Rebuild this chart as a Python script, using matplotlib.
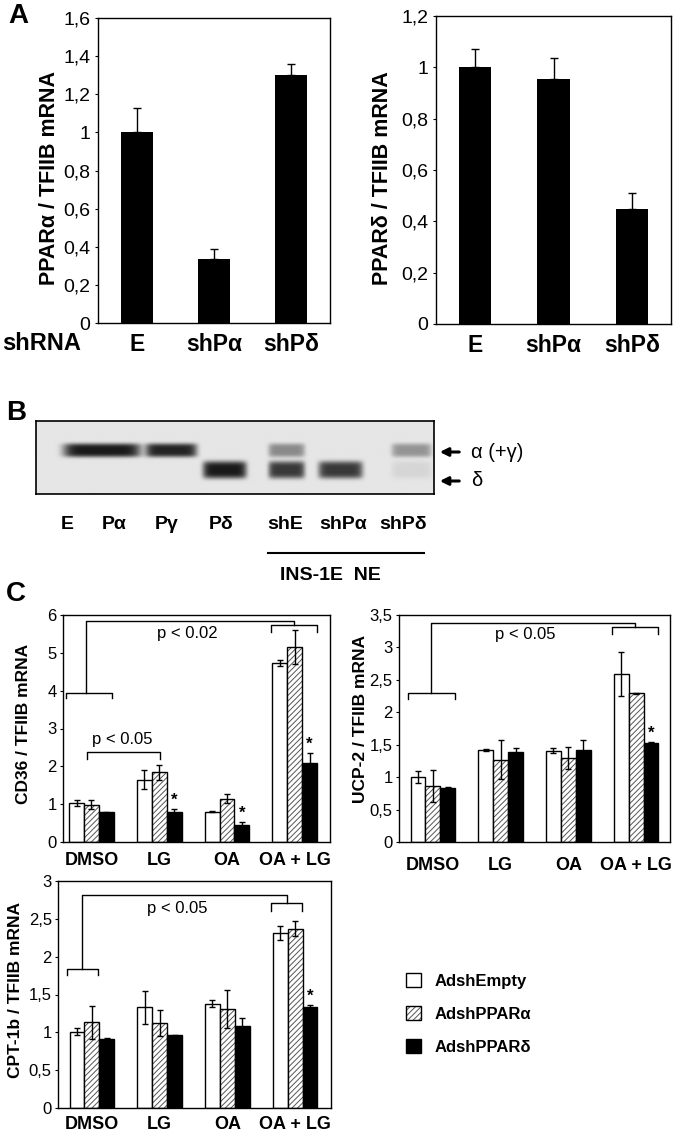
import numpy as np
import matplotlib
matplotlib.use("Agg")
import matplotlib.pyplot as plt
from matplotlib.patches import Patch, FancyArrowPatch
from matplotlib.lines import Line2D
from matplotlib.ticker import FuncFormatter

plt.rcParams["font.family"] = ["Liberation Sans", "DejaVu Sans"]
plt.rcParams["hatch.linewidth"] = 0.7

# ---- panel A data
sh_labels = ["E", "shPα", "shPδ"]
ppara_vals = [1.0, 0.335, 1.30]
ppara_err = [0.13, 0.055, 0.06]
ppard_vals = [1.0, 0.955, 0.45]
ppard_err = [0.07, 0.08, 0.06]

# ---- panel B data (western blot, relative band intensity)
gel_lanes = ["E", "Pα", "Pγ", "Pδ", "shE", "shPα", "shPδ"]
band_center = [0.55, 1.16, 2.38, 3.32, 4.41, 5.36, 6.61]
band_width = [0.8, 1.36, 0.90, 0.77, 0.64, 0.78, 0.70]
band_upper = [0.0, 1.0, 0.95, 0.0, 0.45, 0.0, 0.40]
band_lower = [0.0, 0.0, 0.0, 1.0, 0.85, 0.85, 0.08]

# ---- panel C data
treatments = ["DMSO", "LG", "OA", "OA + LG"]
series_names = ["AdshEmpty", "AdshPPARα", "AdshPPARδ"]

cd36_empty = [1.02, 1.65, 0.80, 4.73]
cd36_empty_err = [0.08, 0.24, 0.02, 0.08]
cd36_alpha = [0.98, 1.84, 1.14, 5.16]
cd36_alpha_err = [0.12, 0.20, 0.12, 0.45]
cd36_delta = [0.78, 0.80, 0.45, 2.08]
cd36_delta_err = [0.02, 0.08, 0.08, 0.27]
cd36_star = [False, True, True, True]

ucp_empty = [1.0, 1.42, 1.41, 2.59]
ucp_empty_err = [0.09, 0.02, 0.04, 0.34]
ucp_alpha = [0.86, 1.27, 1.30, 2.29]
ucp_alpha_err = [0.25, 0.30, 0.17, 0.01]
ucp_delta = [0.84, 1.38, 1.42, 1.53]
ucp_delta_err = [0.01, 0.07, 0.16, 0.01]
ucp_star = [False, False, False, True]

cpt_empty = [1.01, 1.33, 1.38, 2.31]
cpt_empty_err = [0.05, 0.22, 0.05, 0.09]
cpt_alpha = [1.13, 1.12, 1.31, 2.37]
cpt_alpha_err = [0.22, 0.17, 0.25, 0.10]
cpt_delta = [0.91, 0.96, 1.08, 1.33]
cpt_delta_err = [0.02, 0.01, 0.11, 0.03]
cpt_star = [False, False, False, True]

W, H = 674, 1134
fig = plt.figure(figsize=(W / 100, H / 100), dpi=100)
narrow = ["Liberation Sans Narrow", "Liberation Sans", "DejaVu Sans"]


def rect(x0, y0, x1, y1):
    # pixel box -> figure fraction
    return [x0 / W, 1 - y1 / H, (x1 - x0) / W, (y1 - y0) / H]


def fpos(x, y):
    return (x / W, 1 - y / H)


comma = FuncFormatter(lambda v, p: f"{v:g}".replace(".", ","))


def simple_bars(ax, vals, errs, ymax, yticks, ylabel, lab_x):
    x = np.arange(len(vals))
    ax.bar(x, vals, 0.41, color="black")
    ax.errorbar(x, vals, yerr=[[0] * len(errs), errs], fmt="none", ecolor="black",
                elinewidth=1, capsize=3, capthick=1)
    ax.set_xlim(-0.5, 2.5)
    ax.set_ylim(0, ymax)
    ax.set_yticks(yticks)
    ax.yaxis.set_major_formatter(comma)
    ax.tick_params(axis="y", labelsize=14, length=2.5, width=0.8, pad=3)
    ax.set_xticks(x, sh_labels, fontsize=16.5, fontweight="bold")
    ax.tick_params(axis="x", length=0, pad=7)
    ax.set_ylabel(ylabel, fontsize=15.5, fontweight="bold")
    ax.yaxis.set_label_coords(lab_x, 0.475)
    for s in ax.spines.values():
        s.set_linewidth(1)


axA1 = fig.add_axes(rect(98, 18, 330, 323))
simple_bars(axA1, ppara_vals, ppara_err, 1.6, [0, 0.2, 0.4, 0.6, 0.8, 1.0, 1.2, 1.4, 1.6],
            "PPARα / TFIIB mRNA", -0.164)
axA2 = fig.add_axes(rect(436, 16, 671, 324))
simple_bars(axA2, ppard_vals, ppard_err, 1.2, [0, 0.2, 0.4, 0.6, 0.8, 1.0, 1.2],
            "PPARδ / TFIIB mRNA", -0.183)
fig.text(*fpos(2, 343), "shRNA", fontsize=17, fontweight="bold", ha="left", va="center")
fig.text(*fpos(8, 16), "A", fontsize=20, fontweight="bold", ha="left", va="center")

# ---- panel B: blot drawn from band intensities
axB = fig.add_axes(rect(36, 421, 434, 494))
n = len(gel_lanes)
gx = np.linspace(0, n, 800)
gy = np.linspace(0, 1, 150)
X, Y = np.meshgrid(gx, gy)
img = np.full_like(X, 0.9)
for c, w, up, lo in zip(band_center, band_width, band_upper, band_lower):
    hx = np.exp(-np.abs((X - c) / (w / 2)) ** 8)
    img -= up * 0.8 * hx * np.exp(-np.abs((Y - 0.40) / 0.095) ** 4)
    img -= lo * 0.8 * hx * np.exp(-np.abs((Y - 0.67) / 0.12) ** 4)
axB.imshow(img, cmap="gray", vmin=0, vmax=1, extent=(0, n, 1, 0), aspect="auto",
           interpolation="bilinear")
axB.set_yticks([])
axB.set_xticks([0.55, 1.38, 2.3, 3.25, 4.38, 5.4, 6.45], gel_lanes,
               fontsize=14, fontweight="bold", family=narrow)
axB.tick_params(axis="x", length=0, pad=16)
for s in axB.spines.values():
    s.set_linewidth(1.2)

for yy in (452, 481):
    fig.add_artist(FancyArrowPatch(
        fpos(462, yy), fpos(437, yy), transform=fig.transFigure,
        arrowstyle="-|>", mutation_scale=12, lw=2.2, color="black"))
fig.text(*fpos(471, 452), "α (+γ)", fontsize=14.5, ha="left", va="center")
fig.text(*fpos(471, 481), "δ", fontsize=14.5, ha="left", va="center")
fig.add_artist(Line2D([268 / W, 424 / W], [1 - 553 / H] * 2, color="black", lw=1.5))
fig.text(*fpos(330, 575), "INS-1E  NE", fontsize=14, fontweight="bold", family=narrow,
         ha="center", va="center")
fig.text(*fpos(6, 413), "B", fontsize=20, fontweight="bold", ha="left", va="center")


# ---- panel C
def grouped(ax, vals, errs, stars, ymax, yticks, ylabel, xlim, lab_x, lab_y, pad):
    x = np.arange(len(treatments))
    w = 0.22
    for i, (v, e) in enumerate(zip(vals, errs)):
        xi = x + (i - 1) * w
        if i == 1:
            ax.bar(xi, v, w, color="white", edgecolor="#555555", hatch="//////", linewidth=0)
            ax.bar(xi, v, w, fill=False, edgecolor="black", linewidth=1)
        else:
            ax.bar(xi, v, w, color="white" if i == 0 else "black", edgecolor="black", linewidth=1)
        ax.errorbar(xi, v, yerr=e, fmt="none", ecolor="black", elinewidth=1,
                    capsize=2.5, capthick=1)
    for xi, v, e, s in zip(x + w, vals[2], errs[2], stars):
        if s:
            ax.annotate("*", (xi, v + e), xytext=(0, 1), textcoords="offset points",
                        ha="center", va="bottom", fontsize=12, fontweight="bold")
    ax.set_xlim(*xlim)
    ax.set_ylim(0, ymax)
    ax.set_yticks(yticks)
    ax.yaxis.set_major_formatter(comma)
    ax.tick_params(axis="y", labelsize=12, length=2.5, width=0.8, pad=2)
    ax.set_xticks(x, treatments, fontsize=13, fontweight="bold")
    ax.tick_params(axis="x", length=0, pad=pad)
    ax.set_ylabel(ylabel, fontsize=12.5, fontweight="bold")
    ax.yaxis.set_label_coords(lab_x, lab_y)
    for s in ax.spines.values():
        s.set_linewidth(1)


def bracket(ax, x0, x1, y, drop):
    ax.plot([x0, x0, x1, x1], [y - drop, y, y, y - drop], color="black", lw=1)


def link(ax, xa, ya, xb, yb, top):
    ax.plot([xa, xa, xb, xb], [ya, top, top, yb], color="black", lw=1)


axC1 = fig.add_axes(rect(63, 615, 330, 842))
grouped(axC1, [cd36_empty, cd36_alpha, cd36_delta],
        [cd36_empty_err, cd36_alpha_err, cd36_delta_err], cd36_star,
        6, [0, 1, 2, 3, 4, 5, 6], "CD36 / TFIIB mRNA", (-0.42, 3.52), -0.12, 0.52, 7)
bracket(axC1, -0.38, 0.30, 3.95, 0.15)
bracket(axC1, 2.65, 3.33, 5.74, 0.18)
link(axC1, -0.08, 3.95, 2.99, 5.74, 5.85)
axC1.text(1.42, 5.5, "p < 0.02", fontsize=12, ha="center", va="center")
bracket(axC1, -0.07, 1.01, 2.38, 0.18)
axC1.text(0.46, 2.72, "p < 0.05", fontsize=12, ha="center", va="center")

axC2 = fig.add_axes(rect(399, 615, 670, 842))
grouped(axC2, [ucp_empty, ucp_alpha, ucp_delta],
        [ucp_empty_err, ucp_alpha_err, ucp_delta_err], ucp_star,
        3.5, [0, 0.5, 1, 1.5, 2, 2.5, 3, 3.5], "UCP-2 / TFIIB mRNA", (-0.5, 3.5),
        -0.114, 0.54, 11)
bracket(axC2, -0.37, 0.32, 2.29, 0.09)
bracket(axC2, 2.64, 3.32, 3.31, 0.10)
link(axC2, -0.03, 2.29, 2.98, 3.31, 3.38)
axC2.text(1.37, 3.2, "p < 0.05", fontsize=12, ha="center", va="center")

axC3 = fig.add_axes(rect(58, 881, 331, 1108))
grouped(axC3, [cpt_empty, cpt_alpha, cpt_delta],
        [cpt_empty_err, cpt_alpha_err, cpt_delta_err], cpt_star,
        3, [0, 0.5, 1, 1.5, 2, 2.5, 3], "CPT-1b / TFIIB mRNA", (-0.5, 3.53),
        -0.128, 0.52, 6)
bracket(axC3, -0.37, 0.09, 1.84, 0.08)
bracket(axC3, 2.64, 3.10, 2.71, 0.10)
link(axC3, -0.15, 1.84, 2.88, 2.71, 2.81)
axC3.text(1.26, 2.64, "p < 0.05", fontsize=12, ha="center", va="center")

fig.text(*fpos(6, 594), "C", fontsize=20, fontweight="bold", ha="left", va="center")

handles = [
    Patch(facecolor="white", edgecolor="black", lw=1),
    (Patch(facecolor="white", edgecolor="#555555", hatch="//////", lw=0),
     Patch(fill=False, edgecolor="black", lw=1)),
    Patch(facecolor="black", edgecolor="black", lw=1),
]
fig.legend(handles, series_names, loc="upper left", bbox_to_anchor=fpos(406, 973),
           frameon=False, prop=dict(weight="bold", size=12), handlelength=0.9,
           handleheight=0.9, handletextpad=0.8, labelspacing=1.05, borderpad=0,
           borderaxespad=0)

fig.savefig("out.png", dpi=100)
